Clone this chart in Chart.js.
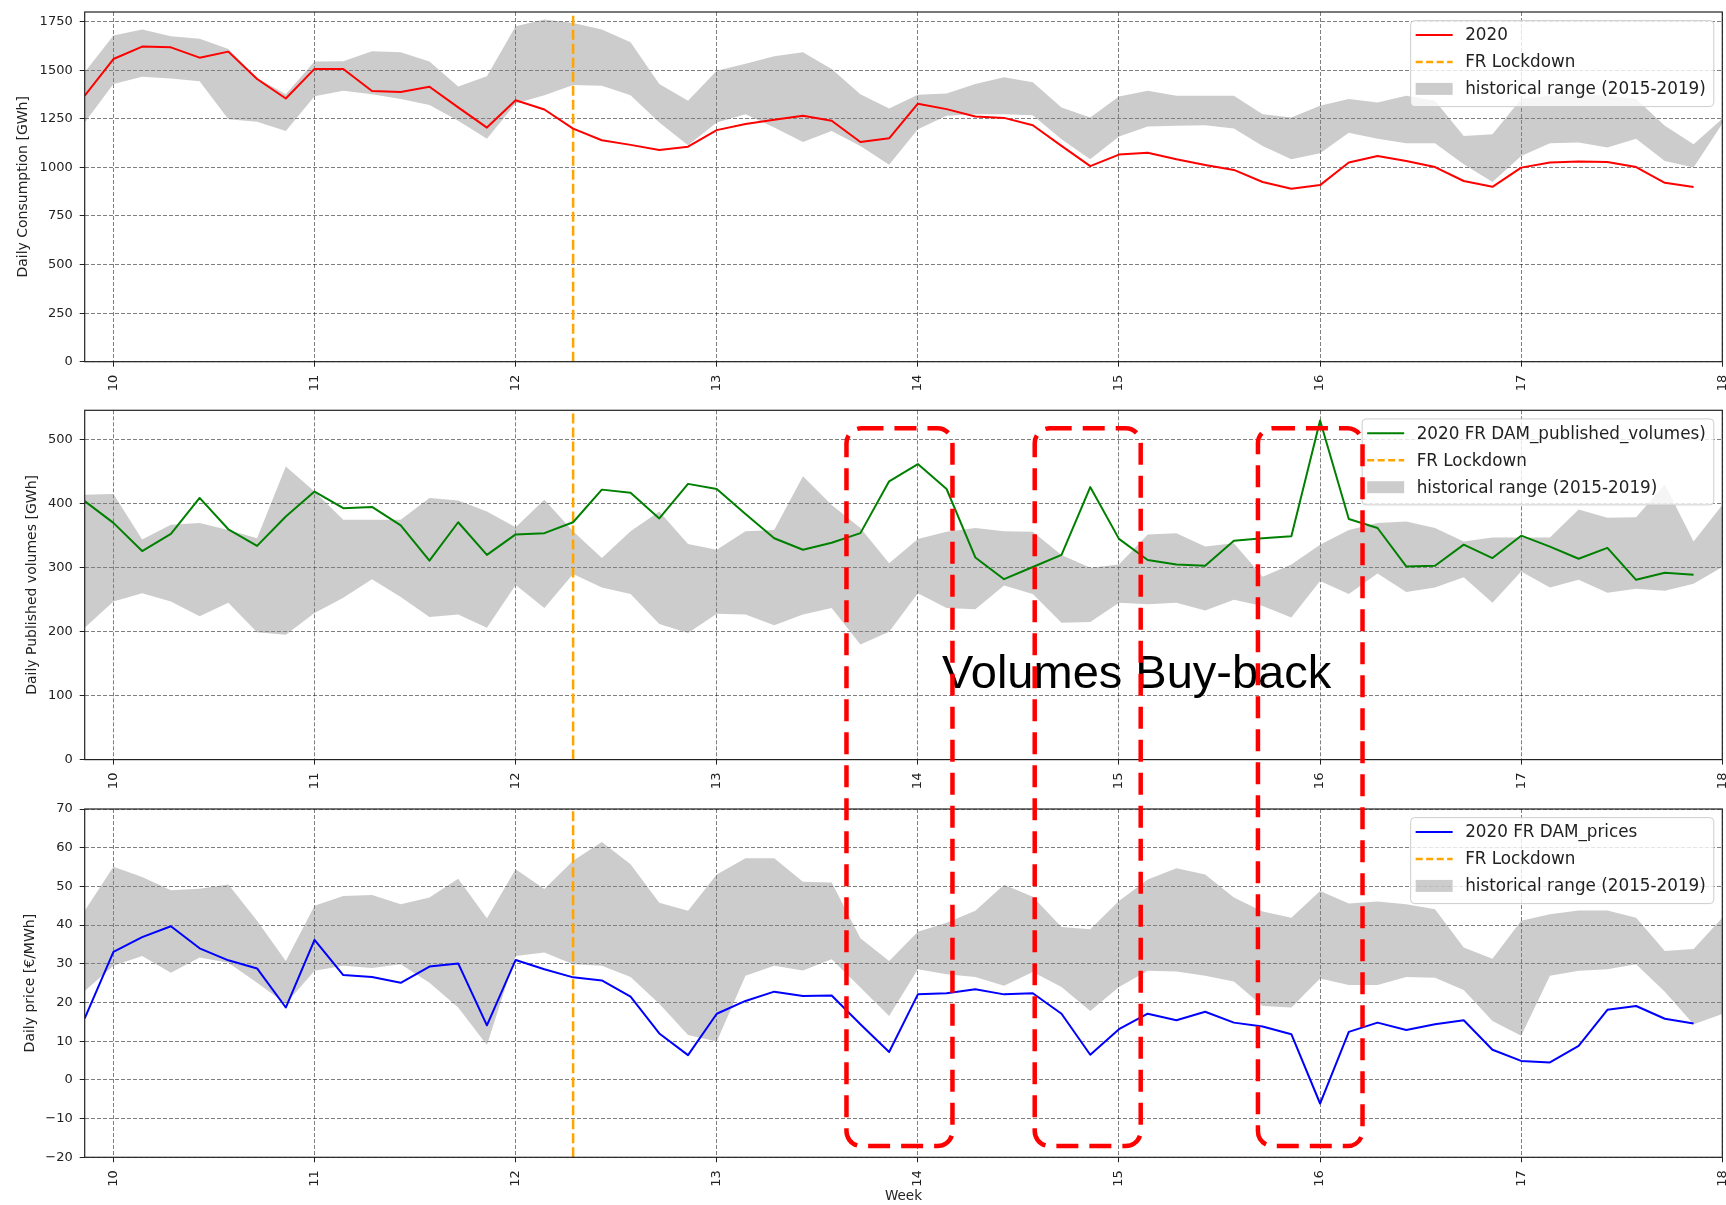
<!DOCTYPE html>
<html>
<head>
<meta charset="utf-8">
<title>FR electricity: consumption, DAM volumes and prices, weeks 10-18 2020</title>
<script src="https://cdn.jsdelivr.net/npm/chart.js@4.4.1/dist/chart.umd.min.js"></script>
<style>
  html, body { margin: 0; padding: 0; background: #fff; }
  #wrap { position: relative; width: 1726px; height: 1205px; overflow: hidden; }
  #wrap canvas { position: absolute; left: 0; }
</style>
</head>
<body>
<div id="wrap">
  <canvas id="cons" width="1726" height="400" style="top:0px"></canvas>
  <canvas id="vol" width="1726" height="400" style="top:400px"></canvas>
  <canvas id="price" width="1726" height="405" style="top:800px"></canvas>
  <canvas id="notes" width="1726" height="1205" style="top:0px;pointer-events:none"></canvas>
</div>
<script>
// ---- x axis: one point per day, expressed in ISO week numbers ----
const weekTicks = [10, 11, 12, 13, 14, 15, 16, 17, 18];
const firstDayWeek = 69 / 7;          // Sunday before week 10
const lastDayWeek = 18;
const days = Array.from({ length: 58 }, (_, i) => firstDayWeek + i / 7);
const lockdownWeek = 86 / 7;          // 17 March 2020

// ---- daily consumption [GWh] ----
const consumptionTicks = [0, 250, 500, 750, 1000, 1250, 1500, 1750];
const consumption2020 = [1369, 1558, 1622, 1618, 1565, 1596, 1455, 1355, 1507, 1507, 1393, 1388, 1415, 1309, 1205, 1346, 1298, 1200, 1140, 1116, 1090, 1107, 1192, 1223, 1245, 1266, 1240, 1131, 1150, 1328, 1300, 1262, 1255, 1217, 1111, 1007, 1066, 1076, 1042, 1013, 987, 925, 890, 909, 1025, 1059, 1033, 1002, 930, 900, 999, 1025, 1030, 1028, 1002, 921, 899];
const consumptionHistHigh = [1490, 1679, 1710, 1675, 1662, 1610, 1460, 1377, 1545, 1546, 1598, 1593, 1545, 1417, 1469, 1727, 1761, 1743, 1710, 1644, 1429, 1343, 1498, 1533, 1572, 1593, 1507, 1377, 1303, 1374, 1381, 1429, 1464, 1438, 1309, 1257, 1365, 1395, 1369, 1369, 1369, 1274, 1257, 1317, 1352, 1334, 1369, 1343, 1162, 1171, 1352, 1369, 1377, 1369, 1352, 1214, 1119, 1250];
const consumptionHistLow = [1231, 1429, 1467, 1458, 1443, 1248, 1235, 1188, 1366, 1395, 1377, 1352, 1321, 1240, 1148, 1329, 1372, 1424, 1421, 1372, 1231, 1114, 1231, 1274, 1205, 1131, 1188, 1110, 1014, 1197, 1266, 1274, 1274, 1269, 1145, 1042, 1159, 1211, 1214, 1217, 1200, 1110, 1042, 1073, 1179, 1148, 1124, 1124, 1016, 925, 1059, 1124, 1128, 1102, 1148, 1033, 999, 1225];

// ---- daily DAM published volumes [GWh] ----
const volumeTicks = [0, 100, 200, 300, 400, 500];
const volumes2020 = [404, 370, 326, 353, 409, 360, 334, 380, 419, 393, 395, 366, 311, 371, 320, 352, 354, 371, 422, 417, 377, 431, 423, 384, 346, 328, 339, 354, 435, 462, 423, 316, 282, 301, 320, 426, 345, 312, 305, 303, 342, 346, 349, 530, 376, 362, 302, 303, 336, 315, 350, 333, 314, 331, 281, 292, 289];
const volumesHistHigh = [414, 415, 344, 367, 370, 359, 346, 458, 419, 375, 375, 375, 409, 405, 388, 363, 406, 357, 315, 357, 388, 337, 328, 357, 359, 443, 398, 362, 307, 345, 356, 362, 357, 356, 320, 300, 305, 352, 354, 333, 338, 286, 305, 336, 359, 370, 372, 362, 341, 347, 347, 347, 391, 378, 379, 430, 341, 398];
const volumesHistLow = [206, 247, 260, 247, 224, 245, 199, 195, 229, 253, 282, 254, 223, 227, 206, 273, 237, 290, 269, 259, 212, 198, 228, 227, 210, 227, 237, 180, 200, 260, 237, 235, 272, 259, 214, 215, 245, 243, 245, 233, 250, 240, 222, 279, 259, 291, 262, 269, 285, 245, 294, 269, 281, 261, 267, 264, 275, 301];

// ---- daily DAM prices [EUR/MWh] ----
const priceTicks = [-20, -10, 0, 10, 20, 30, 40, 50, 60, 70];
const prices2020 = [15.9, 33.1, 36.9, 39.7, 34.0, 30.9, 28.8, 18.7, 36.2, 27.1, 26.6, 25.1, 29.3, 30.1, 14.1, 31.0, 28.6, 26.5, 25.7, 21.5, 12.0, 6.4, 17.1, 20.4, 22.8, 21.7, 21.8, 14.4, 7.2, 22.1, 22.4, 23.4, 22.1, 22.4, 17.1, 6.5, 13.1, 17.1, 15.4, 17.6, 14.8, 13.8, 11.8, -6.1, 12.4, 14.8, 12.9, 14.4, 15.4, 7.8, 4.9, 4.5, 8.8, 18.1, 19.1, 15.8, 14.6];
const pricesHistHigh = [43.7, 55.1, 52.4, 49.0, 49.4, 50.5, 41.1, 30.7, 45.0, 47.5, 47.8, 45.4, 47.1, 52.0, 41.8, 54.4, 49.3, 56.6, 61.5, 55.7, 45.8, 43.7, 53.1, 57.3, 57.3, 51.2, 51.0, 36.6, 30.7, 38.3, 40.6, 43.7, 50.4, 47.3, 39.5, 38.9, 46.2, 51.8, 54.7, 53.1, 47.1, 43.5, 41.9, 48.8, 45.6, 46.1, 45.4, 44.1, 34.2, 31.3, 41.1, 42.8, 43.8, 43.8, 41.9, 33.3, 33.8, 41.9];
const pricesHistLow = [23.0, 29.5, 32.0, 27.7, 31.6, 30.3, 25.1, 19.7, 28.2, 29.5, 28.9, 29.9, 25.1, 18.7, 9.0, 32.0, 32.9, 29.9, 29.5, 26.6, 19.7, 11.6, 9.9, 26.9, 29.5, 28.3, 31.2, 23.9, 16.5, 28.6, 27.3, 26.6, 24.3, 27.9, 24.0, 17.8, 24.0, 28.2, 28.0, 26.9, 25.4, 19.1, 18.7, 26.2, 24.5, 24.5, 26.6, 26.4, 23.2, 15.2, 11.4, 26.9, 28.2, 28.6, 29.9, 22.8, 14.4, 17.0];

// ---- buy-back windows (weeks) spanning the volume and price panels ----
const buyBackWindows = [[13.645, 14.172], [14.581, 15.108], [15.691, 16.211]];
const buyBackVolumeTop = 518;
const buyBackPriceBottom = -17.1;
const noteLabel = 'Volumes Buy-back';
const noteWeek = 14.12;
const noteVolume = 112;

// ---- legend labels ----
const lockdownLabel = 'FR Lockdown';
const rangeLabel = 'historical range (2015-2019)';

// ---- shared styling ----
Chart.defaults.font.family = '"DejaVu Sans", sans-serif';
const textColor = '#222';
const gridColor = 'rgba(0,0,0,0.5)';
const bandColor = 'rgba(128,128,128,0.4)';
const tickFont = { size: 13, family: '"DejaVu Sans"' };
const legendFontPx = 16.8;

const toPoints = vals => vals.map((v, i) => ({ x: days[i], y: v }));
const fmtTick = v => String(v).replace('-', '\u2212');

// axes frame + in-plot legend in the upper right corner
const panelDecor = {
  id: 'panelDecor',
  afterDraw(chart, args, opts) {
    const ctx = chart.ctx;
    const a = chart.chartArea;
    ctx.save();
    ctx.setLineDash([]);
    ctx.strokeStyle = '#222';
    ctx.lineWidth = 1.2;
    ctx.strokeRect(a.left, a.top, a.right - a.left, a.bottom - a.top);

    ctx.font = legendFontPx + 'px "DejaVu Sans"';
    const items = opts.items;
    const tw = Math.max(...items.map(it => ctx.measureText(it.label).width));
    const padL = 5, handleW = 37, gap = 12.5, padR = 8;
    const w = padL + handleW + gap + tw + padR;
    const h = 86;
    const x0 = a.right - 8.5 - w;
    const y0 = a.top + 8.6;
    ctx.beginPath();
    ctx.roundRect(x0, y0, w, h, 4);
    ctx.fillStyle = 'rgba(255,255,255,0.8)';
    ctx.fill();
    ctx.strokeStyle = 'rgba(200,200,200,0.9)';
    ctx.lineWidth = 1;
    ctx.stroke();
    items.forEach((it, k) => {
      const cy = y0 + 14.3 + k * 27;
      const hx = x0 + padL;
      if (it.kind === 'patch') {
        ctx.fillStyle = it.color;
        ctx.fillRect(hx, cy - 6, handleW, 12);
      } else {
        ctx.beginPath();
        ctx.setLineDash(it.dash || []);
        ctx.strokeStyle = it.color;
        ctx.lineWidth = it.width;
        ctx.moveTo(hx, cy);
        ctx.lineTo(hx + handleW, cy);
        ctx.stroke();
        ctx.setLineDash([]);
      }
      ctx.fillStyle = textColor;
      ctx.textBaseline = 'middle';
      ctx.textAlign = 'left';
      ctx.fillText(it.label, hx + handleW + gap, cy + 1);
    });
    ctx.restore();
  }
};

function makePanel(canvasId, cfg) {
  const gridOpts = {
    color: gridColor, lineWidth: 1, drawTicks: true,
    tickLength: 5, tickColor: textColor, tickWidth: 1, tickBorderDash: []
  };
  return new Chart(document.getElementById(canvasId), {
    type: 'line',
    data: {
      datasets: [
        { label: cfg.lineLabel, data: toPoints(cfg.values), borderColor: cfg.color, borderWidth: 2,
          pointRadius: 0, tension: 0, fill: false, order: 1, borderJoinStyle: 'round' },
        { label: lockdownLabel, data: [{ x: lockdownWeek, y: cfg.yMin }, { x: lockdownWeek, y: cfg.yMax }],
          borderColor: 'orange', borderWidth: 2.5, borderDash: [10, 4], pointRadius: 0, fill: false, order: 2 },
        { label: rangeLabel, data: toPoints(cfg.high), borderColor: 'transparent', borderWidth: 0,
          pointRadius: 0, tension: 0, backgroundColor: bandColor, fill: '+1', order: 3 },
        { label: rangeLabel + ' low', data: toPoints(cfg.low), borderColor: 'transparent', borderWidth: 0,
          pointRadius: 0, tension: 0, fill: false, order: 3 }
      ]
    },
    options: {
      responsive: false,
      animation: false,
      devicePixelRatio: 1,
      events: [],
      layout: { padding: { top: cfg.padTop, right: 3.7, bottom: 0, left: 0 } },
      plugins: {
        legend: { display: false },
        tooltip: { enabled: false },
        panelDecor: {
          items: [
            { label: cfg.lineLabel, kind: 'line', color: cfg.color, width: 2 },
            { label: lockdownLabel, kind: 'line', color: 'orange', width: 2.5, dash: [7, 3.5] },
            { label: rangeLabel, kind: 'patch', color: bandColor }
          ]
        }
      },
      scales: {
        x: {
          type: 'linear', min: firstDayWeek, max: lastDayWeek,
          afterBuildTicks: s => { s.ticks = weekTicks.map(v => ({ value: v })); },
          afterFit: s => { s.height = cfg.xHeight; s.paddingLeft = 0; s.paddingRight = 0; },
          ticks: { font: tickFont, color: textColor, padding: 8, minRotation: 90, maxRotation: 90,
                   autoSkip: false, callback: v => String(v) },
          grid: gridOpts,
          border: { display: false, dash: [4, 2] },
          title: { display: !!cfg.xTitle, text: cfg.xTitle || '', color: textColor,
                   font: { size: 13.5 }, padding: { top: 0, bottom: 0 } }
        },
        y: {
          min: cfg.yMin, max: cfg.yMax,
          afterBuildTicks: s => { s.ticks = cfg.yTicks.map(v => ({ value: v })); },
          afterFit: s => { s.width = 84.7; s.paddingTop = 0; s.paddingBottom = 0; },
          ticks: { font: tickFont, color: textColor, padding: 7, callback: v => fmtTick(v) },
          grid: gridOpts,
          border: { display: false, dash: [4, 2] },
          title: { display: true, text: cfg.yTitle, color: textColor, font: { size: 14 },
                   padding: { top: cfg.yTitlePad, bottom: 0 } }
        }
      }
    },
    plugins: [panelDecor]
  });
}

const consChart = makePanel('cons', {
  lineLabel: '2020', color: 'red',
  values: consumption2020, high: consumptionHistHigh, low: consumptionHistLow,
  yMin: 0, yMax: 1800, yTicks: consumptionTicks,
  yTitle: 'Daily Consumption [GWh]', yTitlePad: 15.3,
  padTop: 12, xHeight: 38.3
});

const volChart = makePanel('vol', {
  lineLabel: '2020 FR DAM_published_volumes)', color: 'green',
  values: volumes2020, high: volumesHistHigh, low: volumesHistLow,
  yMin: 0, yMax: 546, yTicks: volumeTicks,
  yTitle: 'Daily Published volumes [GWh]', yTitlePad: 24.1,
  padTop: 10.3, xHeight: 40.4
});

const priceChart = makePanel('price', {
  lineLabel: '2020 FR DAM_prices', color: 'blue',
  values: prices2020, high: pricesHistHigh, low: pricesHistLow,
  yMin: -20, yMax: 70, yTicks: priceTicks,
  yTitle: 'Daily price [\u20AC/MWh]', yTitlePad: 21.5,
  padTop: 9, xHeight: 47.7, xTitle: 'Week'
});

// annotation layer: buy-back windows across the volume and price panels
function drawNotes() {
  const ctx = document.getElementById('notes').getContext('2d');
  const volTop = 400, priceTop = 800;
  const vx = volChart.scales.x, vy = volChart.scales.y, py = priceChart.scales.y;

  ctx.font = '47px "Liberation Sans", Arial, sans-serif';
  ctx.fillStyle = '#000';
  ctx.textAlign = 'left';
  ctx.textBaseline = 'alphabetic';
  ctx.fillText(noteLabel, vx.getPixelForValue(noteWeek), volTop + vy.getPixelForValue(noteVolume));

  ctx.strokeStyle = 'red';
  ctx.lineWidth = 4.5;
  ctx.setLineDash([22, 11]);
  buyBackWindows.forEach(([from, to]) => {
    const x1 = vx.getPixelForValue(from);
    const x2 = vx.getPixelForValue(to);
    const y1 = volTop + vy.getPixelForValue(buyBackVolumeTop);
    const y2 = priceTop + py.getPixelForValue(buyBackPriceBottom);
    ctx.beginPath();
    ctx.roundRect(x1, y1, x2 - x1, y2 - y1, 15);
    ctx.stroke();
  });
}
drawNotes();
</script>
</body>
</html>
